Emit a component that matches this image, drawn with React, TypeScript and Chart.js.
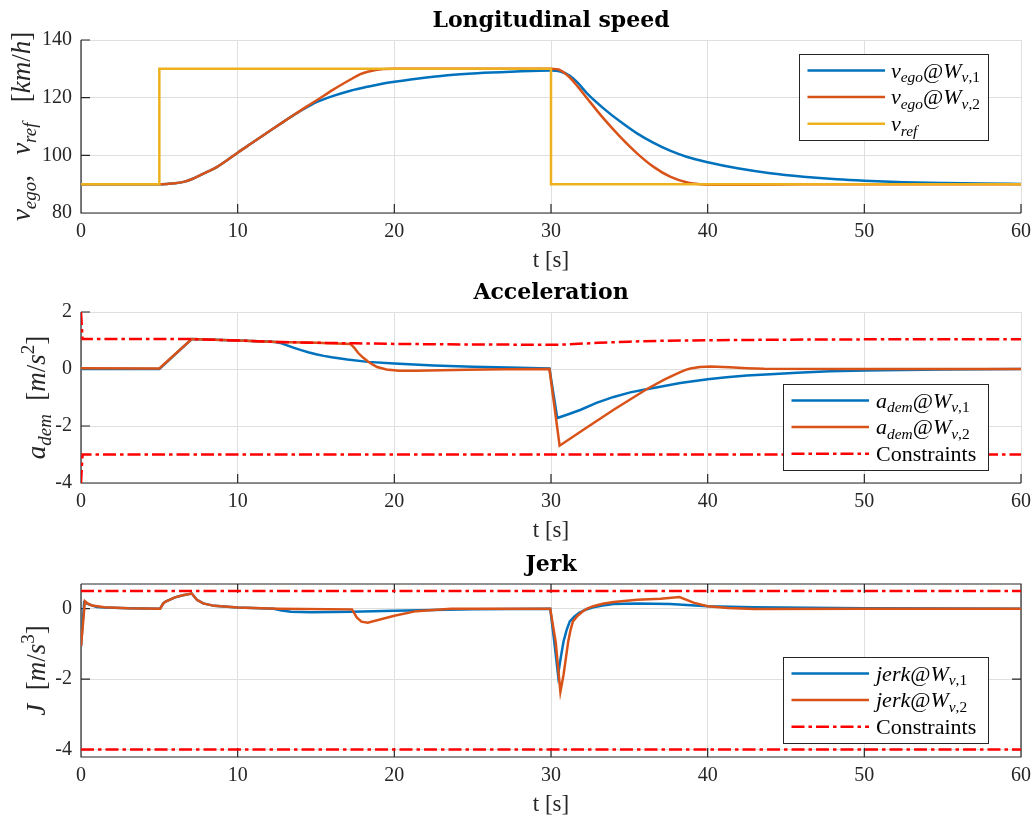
import React, { useEffect, useRef } from "react";
import { Chart, registerables } from "chart.js";

Chart.register(...registerables);

type Pt = [number, number];

// ---------- tick values ----------
const T_TICKS = [0, 10, 20, 30, 40, 50, 60];
const SPEED_TICKS = [80, 100, 120, 140];
const ACC_TICKS = [-4, -2, 0, 2];
const JERK_TICKS = [-4, -2, 0];

// ---------- speed [km/h] ----------
const SPEED_W1: Pt[] = [
  [0, 90], [5, 90], [5.5, 90.1], [6, 90.3], [6.55, 90.8], [7.1, 91.8], [7.62, 93.1], [8.15, 94.5],
  [8.69, 96.0], [9.3, 98.2], [10, 100.9], [10.81, 103.9], [11.9, 107.9], [12.94, 111.7], [13.7, 114.4],
  [14.4, 116.6], [15.1, 118.6], [16.1, 120.6], [17.2, 122.4], [18.3, 123.8], [19.3, 124.9], [20, 125.5],
  [21.3, 126.5], [23.4, 127.8], [25.3, 128.5], [27.5, 129.0], [30, 129.4], [30.6, 129.1], [31.2, 127.6],
  [31.7, 125.2], [32.3, 121.5], [33.35, 116.3], [34.42, 111.7], [35.49, 107.6], [36.55, 104.3],
  [37.6, 101.6], [38.7, 99.4], [40, 97.6], [41.9, 95.5], [44, 93.8], [46.1, 92.6], [48.25, 91.7],
  [50, 91.2], [52.5, 90.7], [55, 90.4], [57.5, 90.2], [60, 90.1],
];
const SPEED_W2: Pt[] = [
  [0, 90], [5, 90], [5.5, 90.1], [6, 90.3], [6.55, 90.8], [7.1, 91.8], [7.62, 93.1], [8.15, 94.5],
  [8.69, 96.0], [9.3, 98.2], [10, 100.9], [10.81, 103.9], [11.9, 107.9], [12.94, 111.7], [13.7, 114.4],
  [14.4, 116.9], [15.1, 119.3], [16.1, 122.8], [17.2, 126.3], [17.8, 128.1], [18.3, 129.0], [19.3, 129.9],
  [20, 130], [30, 130], [30.6, 129.5], [31.2, 127.0], [31.7, 123.9], [32.3, 119.8], [33.35, 112.8],
  [34.42, 106.4], [35.49, 100.7], [36.55, 96.0], [37.6, 92.6], [38.7, 90.6], [39.5, 90.0], [40.5, 89.8],
  [43, 89.8], [46, 89.95], [50, 90], [60, 90],
];
const SPEED_REF: Pt[] = [[0, 90], [5, 90], [5, 130], [30, 130], [30, 90], [60, 90]];

// ---------- acceleration [m/s^2] ----------
const ACC_W1: Pt[] = [
  [0, 0], [5, 0], [7.07, 1.05], [10, 1.0], [12.2, 0.96], [12.5, 0.94], [12.8, 0.9], [13.2, 0.82],
  [13.6, 0.74], [14, 0.67], [14.5, 0.59], [15, 0.52], [15.5, 0.46], [16, 0.41], [17, 0.33], [18.3, 0.25],
  [20, 0.19], [22.5, 0.12], [25, 0.08], [28, 0.04], [29.9, 0.02], [30.4, -1.72], [31.2, -1.57],
  [31.9, -1.43], [32.9, -1.19], [34, -0.98], [35.06, -0.82], [36, -0.72], [36.8, -0.64], [38.25, -0.49],
  [40, -0.36], [41.2, -0.29], [42.5, -0.23], [44, -0.18], [45.7, -0.13], [47.8, -0.08], [50, -0.05],
  [55, -0.02], [60, 0],
];
const ACC_W2: Pt[] = [
  [0, 0.03], [5, 0.02], [7.07, 1.05], [10, 1.0], [12.5, 0.95], [15, 0.92], [17.2, 0.88], [17.45, 0.74],
  [17.7, 0.56], [18.0, 0.4], [18.3, 0.27], [18.6, 0.16], [18.9, 0.07], [19.5, -0.02], [20.3, -0.06],
  [21.4, -0.06], [24.6, -0.03], [27, -0.01], [29.9, 0], [30.55, -2.69], [31.9, -2.19], [34, -1.43],
  [36.1, -0.71], [37.2, -0.38], [37.8, -0.22], [38.25, -0.11], [38.6, -0.03], [38.9, 0.02], [39.5, 0.07],
  [40.2, 0.09], [41.4, 0.06], [42.5, 0.03], [43.6, 0.01], [50, 0], [60, 0],
];
const ACC_UPPER: Pt[] = [
  [0, 2], [0.1, 1.05], [7, 1.05], [10, 1.0], [12.5, 0.95], [15, 0.92], [17.5, 0.9], [20, 0.88], [25, 0.86],
  [30, 0.85], [31, 0.86], [33, 0.92], [35, 0.96], [37, 0.99], [40, 1.01], [45, 1.03], [50, 1.04], [60, 1.04],
];
const ACC_LOWER: Pt[] = [[0, -4], [0.1, -3], [60, -3]];

// ---------- jerk [m/s^3] ----------
const JERK_W1: Pt[] = [
  [0, -1.07], [0.2, 0.18], [0.5, 0.12], [1, 0.05], [1.5, 0.03], [3, 0.01], [5.05, 0], [5.25, 0.15],
  [5.4, 0.2], [6, 0.32], [6.5, 0.38], [7.07, 0.43], [7.25, 0.33], [7.4, 0.25], [7.8, 0.15], [8.5, 0.08],
  [10, 0.03], [12.3, 0], [12.8, -0.05], [13.4, -0.09], [14.7, -0.1], [17.3, -0.09], [20, -0.06],
  [22.5, -0.04], [25, -0.02], [29.95, 0], [30.2, -0.9], [30.45, -1.88], [30.6, -1.45], [30.8, -0.93],
  [31, -0.6], [31.2, -0.36], [31.5, -0.22], [31.8, -0.12], [32.2, -0.03], [32.7, 0.04], [33.3, 0.09],
  [34, 0.13], [35.5, 0.15], [37.6, 0.13], [40, 0.07], [42.9, 0.04], [50, 0.01], [60, 0],
];
const JERK_W2: Pt[] = [
  [0, -1.07], [0.25, 0.21], [0.45, 0.14], [0.7, 0.09], [1.5, 0.04], [3, 0.01], [5.05, 0], [5.25, 0.15],
  [5.4, 0.2], [6, 0.32], [6.5, 0.38], [7.07, 0.43], [7.25, 0.33], [7.4, 0.25], [7.8, 0.15], [8.5, 0.08],
  [10, 0.03], [12.6, 0], [17.3, -0.02], [17.6, -0.25], [17.9, -0.37], [18.3, -0.4], [20, -0.2],
  [21.4, -0.07], [23.6, 0], [29.95, 0], [30.3, -0.95], [30.6, -2.36], [30.8, -1.88], [31.1, -0.93],
  [31.25, -0.6], [31.4, -0.36], [31.7, -0.2], [32, -0.09], [32.3, 0], [32.7, 0.07], [33.3, 0.14],
  [34, 0.19], [35.5, 0.25], [37, 0.28], [38.2, 0.33], [39.1, 0.17], [40, 0.07], [41.3, 0.02], [43, -0.01],
  [50, 0], [60, 0],
];
const JERK_UPPER: Pt[] = [[0, 0.5], [60, 0.5]];
const JERK_LOWER: Pt[] = [[0, -4], [60, -4]];

// ---------- styles ----------
const BLUE = "#0072BD";
const ORANGE = "#D95319";
const YELLOW = "#EDB120";
const RED = "#FF0000";
const GRID = "#dfdfdf";
const AXIS = "#262626";
const SERIF = '"Liberation Serif", "DejaVu Serif", serif';
const TITLE_FONT = 'bold 22px "DejaVu Serif", serif';
const DASH_DOT = [13, 4, 3.5, 4];
const LINE_W = 2.5;

interface SeriesCfg { data: Pt[]; color: string; dashed?: boolean; smooth?: boolean; label?: string }
interface PanelCfg {
  top: number; height: number; padTop: number; xAxisH: number;
  yMin: number; yMax: number; yTicks: number[];
  title: string; yLabel: string; yLabelX: number; box: boolean;
  series: SeriesCfg[];
  legend: { left: number; top: number; width: number; height: number; textDx: number };
}

const PANELS: PanelCfg[] = [
  {
    top: 0, height: 272, padTop: 40, xAxisH: 59, yMin: 80, yMax: 140, yTicks: SPEED_TICKS,
    title: "Longitudinal speed", yLabel: "$v_{ego},   v_{ref}   [km/h]$", yLabelX: 30, box: false,
    series: [
      { data: SPEED_W1, color: BLUE, smooth: true, label: "$v_{ego}@W_{v,1}$" },
      { data: SPEED_W2, color: ORANGE, smooth: true, label: "$v_{ego}@W_{v,2}$" },
      { data: SPEED_REF, color: YELLOW, label: "$v_{ref}$" },
    ],
    legend: { left: 799, top: 54, width: 189, height: 86, textDx: 92 },
  },
  {
    top: 272, height: 274, padTop: 40, xAxisH: 63, yMin: -4, yMax: 2, yTicks: ACC_TICKS,
    title: "Acceleration", yLabel: "$a_{dem}  [m/s^{2}]$", yLabelX: 45, box: false,
    series: [
      { data: ACC_W1, color: BLUE, label: "$a_{dem}@W_{v,1}$" },
      { data: ACC_W2, color: ORANGE, label: "$a_{dem}@W_{v,2}$" },
      { data: ACC_UPPER, color: RED, dashed: true, label: "Constraints" },
      { data: ACC_LOWER, color: RED, dashed: true },
    ],
    legend: { left: 783, top: 112, width: 205, height: 86, textDx: 93 },
  },
  {
    top: 546, height: 272, padTop: 38, xAxisH: 61, yMin: -4.21, yMax: 0.7, yTicks: JERK_TICKS,
    title: "Jerk", yLabel: "$J  [m/s^{3}]$", yLabelX: 45, box: true,
    series: [
      { data: JERK_W1, color: BLUE, label: "$jerk@W_{v,1}$" },
      { data: JERK_W2, color: ORANGE, label: "$jerk@W_{v,2}$" },
      { data: JERK_UPPER, color: RED, dashed: true, label: "Constraints" },
      { data: JERK_LOWER, color: RED, dashed: true },
    ],
    legend: { left: 783, top: 111, width: 205, height: 86, textDx: 93 },
  },
];

// ---------- rich text (mini TeX) ----------
interface Seg { text: string; italic: boolean; level: number }
function parseTex(src: string): Seg[] {
  const math = src.startsWith("$") && src.endsWith("$");
  const s = math ? src.slice(1, -1) : src;
  const out: Seg[] = [];
  const push = (ch: string, level: number) => {
    const italic = math && /[A-Za-z]/.test(ch);
    const last = out[out.length - 1];
    if (last && last.italic === italic && last.level === level) last.text += ch;
    else out.push({ text: ch, italic, level });
  };
  let i = 0;
  while (i < s.length) {
    const c = s[i];
    if ((c === "_" || c === "^") && s[i + 1] === "{") {
      const end = s.indexOf("}", i + 2);
      for (const ch of s.slice(i + 2, end)) push(ch, c === "_" ? -1 : 1);
      i = end + 1;
    } else {
      push(c, 0);
      i++;
    }
  }
  return out;
}
function segFont(seg: Seg, size: number) {
  const sz = seg.level ? size * 0.7 : size;
  return `${seg.italic ? "italic " : ""}${sz}px ${SERIF}`;
}
function richWidth(ctx: CanvasRenderingContext2D, segs: Seg[], size: number) {
  let w = 0;
  for (const sg of segs) { ctx.font = segFont(sg, size); w += ctx.measureText(sg.text).width; }
  return w;
}
function drawRich(ctx: CanvasRenderingContext2D, src: string, x: number, y: number, size: number, align: "left" | "center") {
  const segs = parseTex(src);
  let cx = align === "center" ? x - richWidth(ctx, segs, size) / 2 : x;
  ctx.textAlign = "left";
  ctx.textBaseline = "alphabetic";
  for (const sg of segs) {
    ctx.font = segFont(sg, size);
    const dy = sg.level < 0 ? size * 0.22 : sg.level > 0 ? -size * 0.42 : 0;
    ctx.fillText(sg.text, cx, y + dy);
    cx += ctx.measureText(sg.text).width;
  }
}

// ---------- decoration plugin ----------
function decorPlugin(p: PanelCfg) {
  return {
    id: "decor",
    beforeDatasetsDraw(chart: any) {
      const { ctx, chartArea: a } = chart;
      const xs = chart.scales.x;
      const ys = chart.scales.y;
      const TL = 9;
      ctx.save();
      ctx.strokeStyle = AXIS;
      ctx.lineWidth = 1.2;
      ctx.beginPath();
      for (const v of T_TICKS) {
        const x = xs.getPixelForValue(v);
        ctx.moveTo(x, a.bottom); ctx.lineTo(x, a.bottom - TL);
        if (p.box) { ctx.moveTo(x, a.top); ctx.lineTo(x, a.top + TL); }
      }
      for (const v of p.yTicks) {
        const y = ys.getPixelForValue(v);
        ctx.moveTo(a.left, y); ctx.lineTo(a.left + TL, y);
        if (p.box) { ctx.moveTo(a.right, y); ctx.lineTo(a.right - TL, y); }
      }
      ctx.moveTo(a.left, a.top); ctx.lineTo(a.left, a.bottom); ctx.lineTo(a.right, a.bottom);
      if (p.box) { ctx.lineTo(a.right, a.top); ctx.lineTo(a.left, a.top); }
      ctx.stroke();
      ctx.restore();
    },
    afterDraw(chart: any) {
      const { ctx, chartArea: a } = chart;
      const xs = chart.scales.x;
      const cxm = (a.left + a.right) / 2;
      ctx.save();
      // x tick labels
      ctx.fillStyle = AXIS;
      ctx.font = `20px ${SERIF}`;
      ctx.textAlign = "center";
      ctx.textBaseline = "alphabetic";
      for (const v of T_TICKS) ctx.fillText(String(v), xs.getPixelForValue(v), a.bottom + 24);
      // title
      ctx.fillStyle = "#000";
      ctx.font = TITLE_FONT;
      ctx.fillText(p.title, cxm, a.top - 13);
      // axis labels
      ctx.fillStyle = AXIS;
      drawRich(ctx, "t [s]", cxm, a.bottom + 54, 23, "center");
      ctx.save();
      ctx.translate(p.yLabelX, (a.top + a.bottom) / 2);
      ctx.rotate(-Math.PI / 2);
      drawRich(ctx, p.yLabel, 0, 0, 27, "center");
      ctx.restore();
      // legend
      const lg = p.legend;
      ctx.fillStyle = "#fff";
      ctx.fillRect(lg.left, lg.top, lg.width, lg.height);
      ctx.strokeStyle = AXIS;
      ctx.lineWidth = 1;
      ctx.strokeRect(lg.left + 0.5, lg.top + 0.5, lg.width, lg.height);
      let row = 0;
      chart.data.datasets.forEach((ds: any, i: number) => {
        const s = p.series[i];
        if (!s.label) return;
        const y = lg.top + 16.5 + 26.6 * row;
        ctx.save();
        ctx.strokeStyle = ds.borderColor;
        ctx.lineWidth = ds.borderWidth;
        ctx.setLineDash(ds.borderDash || []);
        ctx.beginPath();
        ctx.moveTo(lg.left + 8.5, y);
        ctx.lineTo(lg.left + 86, y);
        ctx.stroke();
        ctx.restore();
        ctx.fillStyle = "#000";
        drawRich(ctx, s.label, lg.left + lg.textDx, y + 7, 22, "left");
        row++;
      });
      ctx.restore();
    },
  };
}

function Panel({ cfg }: { cfg: PanelCfg }) {
  const ref = useRef<HTMLCanvasElement>(null);
  useEffect(() => {
    const canvas = ref.current!;
    const n = cfg.series.length;
    const chart = new Chart(canvas, {
      type: "line",
      data: {
        datasets: cfg.series.map((s, i) => ({
          data: s.data.map(([x, y]) => ({ x, y })),
          borderColor: s.color,
          backgroundColor: s.color,
          borderWidth: LINE_W,
          borderDash: s.dashed ? DASH_DOT : [],
          pointRadius: 0,
          fill: false,
          tension: 0,
          cubicInterpolationMode: s.smooth ? "monotone" : "default",
          order: n - i,
        })),
      } as any,
      options: {
        animation: false,
        responsive: false,
        maintainAspectRatio: false,
        devicePixelRatio: 1,
        events: [],
        layout: { padding: { top: cfg.padTop, right: 12, bottom: 0, left: 0 } },
        plugins: { legend: { display: false }, title: { display: false }, tooltip: { enabled: false } },
        scales: {
          x: {
            type: "linear",
            min: 0,
            max: 60,
            afterBuildTicks: (s: any) => { s.ticks = T_TICKS.map((v) => ({ value: v })); },
            afterFit: (s: any) => { s.height = cfg.xAxisH; },
            grid: { color: GRID, lineWidth: 1, drawTicks: false },
            border: { display: false },
            ticks: { display: false },
          },
          y: {
            type: "linear",
            min: cfg.yMin,
            max: cfg.yMax,
            afterBuildTicks: (s: any) => { s.ticks = cfg.yTicks.map((v) => ({ value: v })); },
            afterFit: (s: any) => { s.width = 81; },
            grid: { color: GRID, lineWidth: 1, drawTicks: false },
            border: { display: false },
            ticks: {
              color: AXIS, font: { family: SERIF, size: 20 }, padding: 9, autoSkip: false,
              callback: (v: any) => String(v),
            },
          },
        },
      } as any,
      plugins: [decorPlugin(cfg) as any],
    });
    return () => chart.destroy();
  }, [cfg]);
  return (
    <canvas
      ref={ref}
      width={1033}
      height={cfg.height}
      style={{ position: "absolute", left: 0, top: cfg.top, width: 1033, height: cfg.height }}
    />
  );
}

export default function App() {
  return (
    <div style={{ position: "absolute", left: 0, top: 0, width: 1033, height: 818, background: "#fff" }}>
      {PANELS.map((p, i) => (
        <Panel key={i} cfg={p} />
      ))}
    </div>
  );
}
